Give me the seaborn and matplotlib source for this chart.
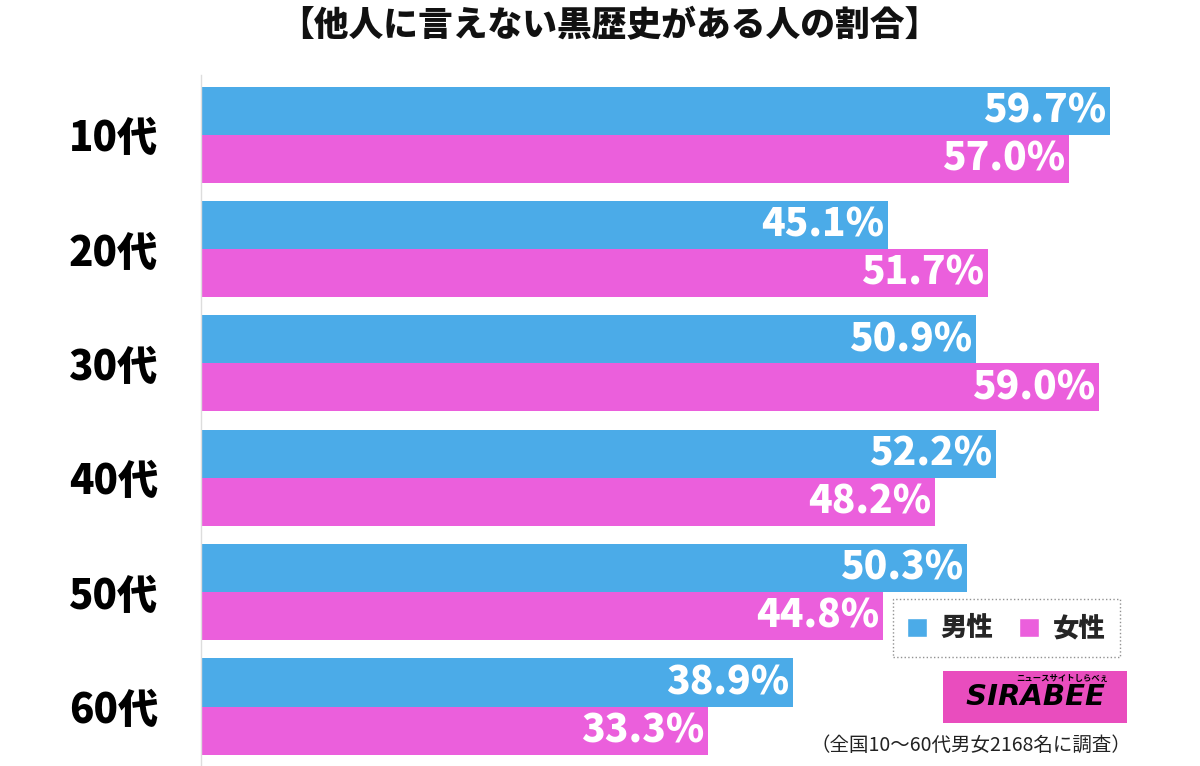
import pandas as pd
import matplotlib
matplotlib.use("Agg")
import matplotlib.pyplot as plt
from matplotlib.patches import Patch
import seaborn as sns

# data
ages = ["10代", "20代", "30代", "40代", "50代", "60代"]
male = [59.7, 45.1, 50.9, 52.2, 50.3, 38.9]
female = [57.0, 51.7, 59.0, 48.2, 44.8, 33.3]
sexes = ["男性", "女性"]
colors = ["#4BABE8", "#EB5FDC"]

df = pd.DataFrame({
    "age": ages * 2,
    "sex": [sexes[0]] * len(ages) + [sexes[1]] * len(ages),
    "pct": male + female,
})

sns.set_theme(style="white")
plt.rcParams["font.family"] = ["Noto Sans CJK JP", "DejaVu Sans"]

fig = plt.figure(figsize=(12, 7.66), dpi=100)
ax = fig.add_axes([0.1675, 0.0, 0.8325, 0.902])

sns.barplot(data=df, x="pct", y="age", hue="sex", order=ages, hue_order=sexes,
            palette=colors, orient="h", width=0.84, saturation=1,
            linewidth=0, legend=False, ax=ax)

ax.set_xlim(0, 65.6)
ax.set_ylim(5.52, -0.52)
ax.set_xlabel("")
ax.set_ylabel("")
ax.set_xticks([])
for s in ["top", "right", "bottom"]:
    ax.spines[s].set_visible(False)
ax.spines["left"].set_color("#dddddd")
ax.spines["left"].set_linewidth(1)
ax.tick_params(axis="y", length=0, pad=31)
for lab in ax.get_yticklabels():
    lab.set_fontsize(29)
    lab.set_fontweight("black")
    lab.set_color("black")

# value labels, white, right-aligned inside the bar end
for cont in ax.containers:
    for bar, v in zip(cont.patches, cont.datavalues):
        ax.annotate(f"{v:.1f}%", (bar.get_width(), bar.get_y() + bar.get_height() / 2),
                    xytext=(-3, 0), textcoords="offset points", ha="right", va="center",
                    color="white", fontsize=28, fontweight="black")

fig.text(0.508, 0.966, "【他人に言えない黒歴史がある人の割合】", ha="center", va="center",
         fontsize=25, fontweight="black", color="#111111")

handles = [Patch(facecolor=c, label=l) for c, l in zip(colors, sexes)]
leg = fig.legend(handles=handles, loc="center", bbox_to_anchor=(0.8385, 0.18),
                 ncol=2, frameon=True, fontsize=19, handlelength=0.75, handleheight=0.75,
                 columnspacing=1.0, handletextpad=0.5, borderpad=0.55, fancybox=False)
leg.get_frame().set_edgecolor("#777777")
leg.get_frame().set_linestyle(":")
leg.get_frame().set_linewidth(1)
for t in leg.get_texts():
    t.set_fontweight("black")

fig.text(0.8625, 0.09, " SIRABEE ", ha="center", va="center", fontsize=21,
         fontweight="bold", style="italic", color="black", family=["DejaVu Sans"],
         bbox=dict(facecolor="#E94DBE", edgecolor="none", boxstyle="square,pad=0.42"))
fig.text(0.885, 0.114, "ニュースサイトしらべぇ", ha="center", va="center", fontsize=6,
         fontweight="bold", color="black")

fig.text(0.943, 0.027, "（全国10～60代男女2168名に調査）", ha="right", va="center",
         fontsize=14, color="#222222")

fig.savefig("out.png", dpi=100)
